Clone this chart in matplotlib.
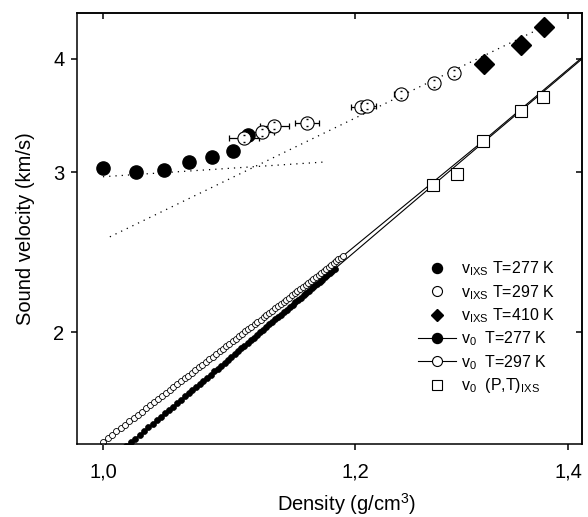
import matplotlib
matplotlib.use('Agg')
import matplotlib.pyplot as plt
from matplotlib.lines import Line2D
from matplotlib.ticker import NullLocator, NullFormatter, FixedFormatter

plt.rcParams['font.family'] = ['Liberation Sans', 'DejaVu Sans']
plt.rcParams['mathtext.fontset'] = 'custom'
plt.rcParams['mathtext.rm'] = 'Liberation Sans'
plt.rcParams['mathtext.it'] = 'Liberation Sans:italic'

# IXS data
ixs277_density = [1.000, 1.024, 1.045, 1.064, 1.082, 1.099, 1.111]
ixs277_velocity = [3.033, 3.002, 3.015, 3.075, 3.119, 3.164, 3.295]
ixs297_density = [1.1074, 1.1217, 1.1320, 1.1588, 1.2050, 1.2102, 1.2404, 1.2704, 1.2891]
ixs297_velocity = [3.267, 3.318, 3.373, 3.399, 3.540, 3.546, 3.653, 3.756, 3.856]
ixs297_density_err = [0.012, 0.010, 0.012, 0.010, 0.008, 0.008, 0.006, 0.004, 0.004]
ixs297_velocity_err = [0.03, 0.03, 0.03, 0.03, 0.03, 0.03, 0.03, 0.03, 0.03]
ixs410_density = [1.3174, 1.3532, 1.3756]
ixs410_velocity = [3.944, 4.139, 4.336]
v0_ixs_density = [1.2697, 1.2919, 1.3165, 1.3532, 1.3748]
v0_ixs_velocity = [2.900, 2.985, 3.243, 3.501, 3.625]

# dotted fit lines
fit_low_density = [1.000, 1.176]
fit_low_velocity = [2.965, 3.079]
fit_high_density = [1.005, 1.3756]
fit_high_velocity = [2.546, 4.336]

# v0 curves
v0_277_density = [1.0000, 1.0035, 1.0070, 1.0104, 1.0138, 1.0171, 1.0204, 1.0237, 1.0270, 1.0302,
                  1.0334, 1.0366, 1.0397, 1.0428, 1.0459, 1.0490, 1.0520, 1.0550, 1.0580, 1.0610,
                  1.0639, 1.0668, 1.0697, 1.0725, 1.0754, 1.0782, 1.0810, 1.0838, 1.0865, 1.0892,
                  1.0920, 1.0946, 1.0973, 1.1000, 1.1026, 1.1052, 1.1078, 1.1104, 1.1130, 1.1155,
                  1.1180, 1.1205, 1.1230, 1.1255, 1.1280, 1.1304, 1.1328, 1.1353, 1.1377, 1.1400,
                  1.1424, 1.1448, 1.1471, 1.1494, 1.1517, 1.1540, 1.1563, 1.1586, 1.1608, 1.1631,
                  1.1653, 1.1675, 1.1698, 1.1719, 1.1741, 1.1763, 1.1785, 1.1806, 1.1827]
v0_277_velocity = [1.424, 1.439, 1.454, 1.468, 1.483, 1.498, 1.512, 1.527, 1.542, 1.556,
                   1.571, 1.585, 1.599, 1.614, 1.628, 1.642, 1.656, 1.670, 1.685, 1.699,
                   1.713, 1.727, 1.741, 1.754, 1.768, 1.782, 1.796, 1.810, 1.823, 1.837,
                   1.851, 1.864, 1.878, 1.892, 1.905, 1.919, 1.932, 1.946, 1.959, 1.972,
                   1.986, 1.999, 2.012, 2.025, 2.039, 2.052, 2.065, 2.078, 2.091, 2.104,
                   2.117, 2.130, 2.143, 2.156, 2.169, 2.182, 2.195, 2.208, 2.221, 2.234,
                   2.247, 2.259, 2.272, 2.285, 2.298, 2.310, 2.323, 2.336, 2.348]
v0_297_density = [1.0000, 1.0033, 1.0065, 1.0098, 1.0130, 1.0162, 1.0193, 1.0224, 1.0255, 1.0286,
                  1.0316, 1.0347, 1.0377, 1.0406, 1.0436, 1.0465, 1.0494, 1.0523, 1.0552, 1.0580,
                  1.0608, 1.0636, 1.0664, 1.0692, 1.0719, 1.0746, 1.0774, 1.0800, 1.0827, 1.0854,
                  1.0880, 1.0906, 1.0932, 1.0958, 1.0984, 1.1009, 1.1035, 1.1060, 1.1085, 1.1110,
                  1.1134, 1.1159, 1.1183, 1.1208, 1.1232, 1.1256, 1.1280, 1.1304, 1.1327, 1.1351,
                  1.1374, 1.1397, 1.1420, 1.1443, 1.1466, 1.1489, 1.1511, 1.1534, 1.1556, 1.1579,
                  1.1601, 1.1623, 1.1645, 1.1666, 1.1688, 1.1710, 1.1731, 1.1752, 1.1774, 1.1795,
                  1.1816, 1.1837, 1.1858, 1.1878, 1.1899]
v0_297_velocity = [1.514, 1.528, 1.542, 1.555, 1.568, 1.582, 1.595, 1.608, 1.622, 1.635,
                   1.648, 1.661, 1.674, 1.687, 1.700, 1.713, 1.726, 1.739, 1.752, 1.765,
                   1.778, 1.790, 1.803, 1.816, 1.829, 1.841, 1.854, 1.866, 1.879, 1.891,
                   1.904, 1.916, 1.929, 1.941, 1.954, 1.966, 1.978, 1.990, 2.003, 2.015,
                   2.027, 2.039, 2.051, 2.064, 2.076, 2.088, 2.100, 2.112, 2.124, 2.136,
                   2.148, 2.160, 2.171, 2.183, 2.195, 2.207, 2.219, 2.231, 2.242, 2.254,
                   2.266, 2.277, 2.289, 2.301, 2.312, 2.324, 2.336, 2.347, 2.359, 2.370,
                   2.382, 2.393, 2.405, 2.416, 2.427]

v0_297_ext_density = [1.1899, 1.3165, 1.420]
v0_297_ext_velocity = [2.427, 3.245, 4.058]
v0_277_ext_density = [1.1827, 1.3165, 1.420]
v0_277_ext_velocity = [2.348, 3.232, 4.044]

x_ticks = [1.0, 1.2, 1.4]
x_ticklabels = ['1,0', '1,2', '1,4']
y_ticks = [2, 3, 4]
y_ticklabels = ['2', '3', '4']

legend_labels = [
    r'v$_{\mathrm{IXS}}$ T=277 K',
    r'v$_{\mathrm{IXS}}$ T=297 K',
    r'v$_{\mathrm{IXS}}$ T=410 K',
    r'v$_{0}$  T=277 K',
    r'v$_{0}$  T=297 K',
    r'v$_{0}$  (P,T)$_{\mathrm{IXS}}$',
]

fig = plt.figure(figsize=(5.88, 5.17), dpi=100)
ax = fig.add_axes([77/588, 73/517, 505/588, 431/517])
ax.set_xscale('log')
ax.set_yscale('log')
ax.set_xlim(0.9814, 1.4143)
ax.set_ylim(1.506, 4.49)

dot = (0, (1, 4))
ax.plot(fit_low_density, fit_low_velocity, color='k', lw=0.9, ls=dot, zorder=1)
ax.plot(fit_high_density, fit_high_velocity, color='k', lw=0.9, ls=dot, zorder=1)

ax.plot(v0_277_ext_density, v0_277_ext_velocity, color='k', lw=0.8, zorder=2)
ax.plot(v0_297_ext_density, v0_297_ext_velocity, color='k', lw=0.8, zorder=2)
ax.plot(v0_277_density, v0_277_velocity, color='k', lw=0.8, marker='o', ms=4.3,
        mfc='k', mec='k', mew=0.5, zorder=2)
ax.plot(v0_297_density, v0_297_velocity, color='k', lw=0.8, marker='o', ms=4.3,
        mfc='white', mec='k', mew=0.6, zorder=2)

ax.plot(v0_ixs_density, v0_ixs_velocity, ls='none', marker='s', ms=9.3,
        mfc='white', mec='k', mew=0.8, zorder=3)
ax.plot(ixs410_density, ixs410_velocity, ls='none', marker='D', ms=10.5,
        mfc='k', mec='k', zorder=3)
ax.plot(ixs277_density, ixs277_velocity, ls='none', marker='o', ms=9.5,
        mfc='k', mec='k', zorder=3)
ax.errorbar(ixs297_density, ixs297_velocity, xerr=ixs297_density_err, fmt='none',
            ecolor='k', elinewidth=0.9, capsize=2, capthick=0.9, zorder=3.5)
ax.plot(ixs297_density, ixs297_velocity, ls='none', marker='o', ms=9.5,
        mfc='white', mec='k', mew=0.8, zorder=4)
ax.errorbar(ixs297_density, ixs297_velocity, yerr=ixs297_velocity_err, fmt='none',
            ecolor='k', elinewidth=0, capsize=0.8, capthick=1.0, zorder=5)

ax.set_xticks(x_ticks)
ax.xaxis.set_major_formatter(FixedFormatter(x_ticklabels))
ax.set_yticks(y_ticks)
ax.yaxis.set_major_formatter(FixedFormatter(y_ticklabels))
ax.xaxis.set_minor_locator(NullLocator())
ax.yaxis.set_minor_locator(NullLocator())
ax.tick_params(axis='both', direction='out', length=4, width=1.1, labelsize=14.5)
ax.tick_params(axis='x', pad=9)
ax.tick_params(axis='y', pad=5)
for s in ax.spines.values():
    s.set_linewidth(1.1)

secx = ax.secondary_xaxis('top')
secx.set_xticks(x_ticks)
secx.xaxis.set_major_formatter(NullFormatter())
secx.xaxis.set_minor_locator(NullLocator())
secx.tick_params(direction='in', length=4, width=1.1)
secx.spines['top'].set_linewidth(1.1)
secy = ax.secondary_yaxis('right')
secy.set_yticks(y_ticks)
secy.yaxis.set_major_formatter(NullFormatter())
secy.yaxis.set_minor_locator(NullLocator())
secy.tick_params(direction='in', length=4, width=1.1)
secy.spines['right'].set_linewidth(1.1)

ax.set_xlabel('Density (g/cm$^3$)', fontsize=14.5)
ax.xaxis.set_label_coords((346 - 77) / 505, -0.11)
ax.set_ylabel('Sound velocity (km/s)', fontsize=14.5, labelpad=13)

handles = [
    Line2D([], [], ls='none', marker='o', mfc='k', mec='k', ms=7.2),
    Line2D([], [], ls='none', marker='o', mfc='white', mec='k', ms=7.2, mew=0.8),
    Line2D([], [], ls='none', marker='D', mfc='k', mec='k', ms=6.5),
    Line2D([], [], ls='-', color='k', lw=0.8, marker='o', mfc='k', mec='k', ms=7.2),
    Line2D([], [], ls='-', color='k', lw=0.8, marker='o', mfc='white', mec='k', ms=7.2, mew=0.8),
    Line2D([], [], ls='none', marker='s', mfc='white', mec='k', ms=6.5, mew=0.8),
]
ax.legend(handles, legend_labels, loc='upper left', bbox_to_anchor=(0.675, 0.428),
          frameon=False, fontsize=11.5, handlelength=2.4, handletextpad=0.3,
          labelspacing=0.29, borderaxespad=0, borderpad=0)

fig.savefig('out.png', dpi=100)
